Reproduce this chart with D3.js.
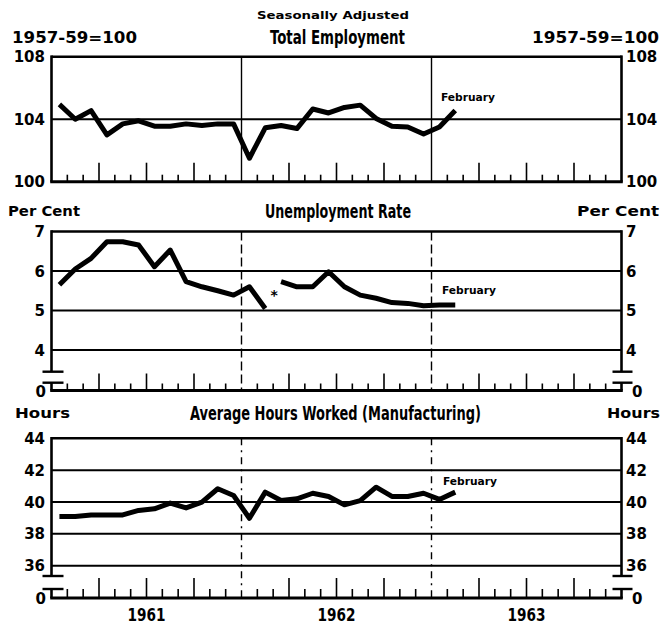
<!DOCTYPE html>
<html><head><meta charset="utf-8">
<script src="https://cdn.jsdelivr.net/npm/d3@7"></script>
<style>body{margin:0;background:#fff} svg{display:block}</style>
</head><body>
<script>
// ---- data (monthly, seasonally adjusted) ----
const months = ["Jan 1961","Feb 1961","Mar 1961","Apr 1961","May 1961","Jun 1961","Jul 1961","Aug 1961","Sep 1961","Oct 1961","Nov 1961","Dec 1961",
                "Jan 1962","Feb 1962","Mar 1962","Apr 1962","May 1962","Jun 1962","Jul 1962","Aug 1962","Sep 1962","Oct 1962","Nov 1962","Dec 1962",
                "Jan 1963","Feb 1963"];
const employment = [104.95,104.0,104.55,103.0,103.7,103.9,103.55,103.55,103.7,103.6,103.7,103.7,
                    101.5,103.45,103.6,103.4,104.65,104.4,104.75,104.9,104.05,103.55,103.5,103.05,
                    103.5,104.55];
// series break (*) between Feb 1962 and Mar 1962
const unemploymentOld = [5.65,6.05,6.32,6.74,6.74,6.66,6.11,6.53,5.73,5.6,5.5,5.39,5.6,5.05];
const unemploymentNew = [5.73,5.6,5.6,5.98,5.6,5.39,5.31,5.2,5.18,5.12,5.14,5.14];
const hours = [39.09,39.09,39.19,39.19,39.19,39.47,39.57,39.93,39.63,39.99,40.83,40.41,
               38.98,40.62,40.09,40.2,40.55,40.35,39.82,40.09,40.93,40.35,40.35,40.55,
               40.16,40.62];
const employmentTicks = [100,104,108];
const unemploymentTicks = [4,5,6,7];
const hoursTicks = [36,38,40,42,44];
const yearLabels = ["1961","1962","1963"];
const nMonths = 36;

// ---- layout ----
const W = 661, H = 625;
const svg = d3.select("body").append("svg").attr("width", W).attr("height", H);
const x = d3.scaleLinear().domain([0, nMonths]).range([51.5, 621.5]);
const X0 = x(0), X1 = x(nMonths);
const numFont = "'DejaVu Sans', sans-serif";
const titleFont = "'Liberation Sans Narrow', 'DejaVu Sans Condensed', sans-serif";

function text(t, px, py, size, opts = {}) {
  const el = svg.append("text").attr("x", px).attr("y", py).text(t)
    .attr("font-family", opts.family || numFont)
    .attr("font-size", size)
    .attr("font-weight", opts.weight || "bold")
    .attr("text-anchor", opts.anchor || "start")
    .attr("fill", "#000");
  if (opts.len) el.attr("textLength", opts.len).attr("lengthAdjust", "spacingAndGlyphs");
  return el;
}

const unempValues = unemploymentOld.map((v,i)=>({i, v}))
  .concat([{i: unemploymentOld.length - 0.5, v: null}])
  .concat(unemploymentNew.map((v,k)=>({i: unemploymentOld.length + k, v})));

const panels = [
  { values: employment.map((v,i)=>({i, v})), ticks: employmentTicks, domain:[100,108], range:[181.7,56.7],
    bottom:181.7, zeroLabel:null, brk:null, divDash:null, tall:19, short:7, feb:[441,101] },
  { values: unempValues, ticks: unemploymentTicks, domain:[4,7], range:[350,231.5],
    bottom:390.5, zeroLabel:"0", brk:[371.7,382.7], divDash:"9,4", tall:17, short:7, feb:[442,294] },
  { values: hours.map((v,i)=>({i, v})), ticks: hoursTicks, domain:[36,44], range:[565.7,438.3],
    bottom:598, zeroLabel:"0", brk:[576,589], divDash:"7,5,2,5", tall:20, short:9, feb:[443,485] }
];

panels.forEach((p) => {
  const y = d3.scaleLinear().domain(p.domain).range(p.range);
  const yTop = y(p.domain[1]);
  const g = svg.append("g");
  // gridlines
  p.ticks.forEach(t => {
    const yy = y(t);
    if (Math.abs(yy - p.bottom) < 1) return;
    g.append("line").attr("x1", X0).attr("x2", X1).attr("y1", yy).attr("y2", yy)
      .attr("stroke", "#000").attr("stroke-width", t === p.domain[1] ? 2.6 : 2);
  });
  // vertical axes
  [X0, X1].forEach(xx => {
    const yEnd = p.brk ? p.brk[0] : p.bottom;
    g.append("line").attr("x1", xx).attr("x2", xx).attr("y1", yTop - 1.3).attr("y2", yEnd)
      .attr("stroke", "#000").attr("stroke-width", 2.6);
    if (p.brk) {
      g.append("line").attr("x1", xx).attr("x2", xx).attr("y1", p.brk[1]).attr("y2", p.bottom)
        .attr("stroke", "#000").attr("stroke-width", 2.6);
    }
  });
  if (p.brk) {
    p.brk.forEach(by => {
      g.append("line").attr("x1", X0 - 9).attr("x2", X0 + 12).attr("y1", by).attr("y2", by)
        .attr("stroke", "#000").attr("stroke-width", 2.4);
      g.append("line").attr("x1", X1 - 9).attr("x2", X1 + 11).attr("y1", by).attr("y2", by)
        .attr("stroke", "#000").attr("stroke-width", 2.4);
    });
  }
  // bottom axis
  g.append("line").attr("x1", X0 - 1.3).attr("x2", X1 + 1.3).attr("y1", p.bottom).attr("y2", p.bottom)
    .attr("stroke", "#000").attr("stroke-width", 3);
  // month ticks
  d3.range(1, nMonths).forEach(m => {
    if (m % 12 === 0) return;
    const hgt = (m % 3 === 0) ? p.tall : p.short;
    g.append("line").attr("x1", x(m)).attr("x2", x(m)).attr("y1", p.bottom).attr("y2", p.bottom - hgt)
      .attr("stroke", "#000").attr("stroke-width", 1.6);
  });
  // year dividers
  [12, 24].forEach(m => {
    const ln = g.append("line").attr("x1", x(m)).attr("x2", x(m)).attr("y1", yTop).attr("y2", p.bottom)
      .attr("stroke", "#000").attr("stroke-width", 1.4);
    if (p.divDash) ln.attr("stroke-dasharray", p.divDash);
  });
  // data line
  const line = d3.line().defined(d => d.v != null).x(d => x(d.i + 0.5)).y(d => y(d.v));
  g.append("path").datum(p.values).attr("d", line).attr("fill", "none")
    .attr("stroke", "#000").attr("stroke-width", 5).attr("stroke-linejoin", "round").attr("stroke-linecap", "butt");
  // tick labels
  p.ticks.forEach(t => {
    const yy = y(t) + 5.5;
    text(String(t), 45, yy, 15, { anchor: "end" });
    text(String(t), 626, yy, 15, { anchor: "start" });
  });
  if (p.zeroLabel) {
    text(p.zeroLabel, 46, p.bottom + 6, 15, { anchor: "end" });
    text(p.zeroLabel, 632, p.bottom + 6, 15, { anchor: "start" });
  }
  text("February", p.feb[0], p.feb[1], 10.5, { len: 54 });
});

// asterisk for series break
text("*", 270.5, 300, 14);

// titles and unit labels
text("Seasonally Adjusted", 333, 18.5, 11, { anchor: "middle", len: 152 });
text("Total Employment", 337.5, 43.5, 19, { anchor: "middle", family: titleFont, len: 135 });
text("1957-59=100", 12, 42.5, 16, { len: 125 });
text("1957-59=100", 532, 42.5, 16, { len: 127 });
text("Per Cent", 8, 216, 14, { len: 72 });
text("Per Cent", 577, 216, 14, { len: 82 });
text("Unemployment Rate", 338, 218, 19, { anchor: "middle", family: titleFont, len: 146 });
text("Hours", 15, 418, 14, { len: 55 });
text("Hours", 607, 418, 14, { len: 53 });
text("Average Hours Worked (Manufacturing)", 335.5, 420, 19, { anchor: "middle", family: titleFont, len: 291 });

// year labels
yearLabels.forEach((yl, k) => {
  text(yl, x(6 + 12 * k), 621, 18, { anchor: "middle", family: titleFont, len: 38 });
});
</script>
</body></html>
